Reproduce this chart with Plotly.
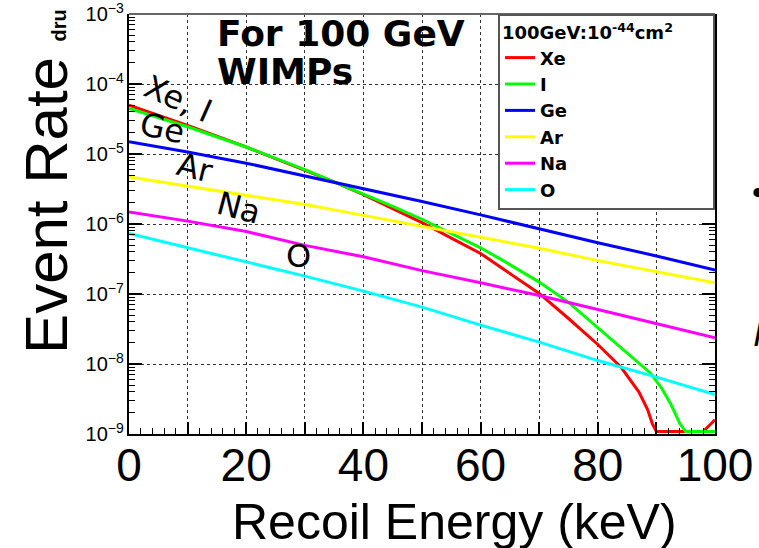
import numpy as np
import plotly.graph_objects as go

# Differential event rate (dru) vs recoil energy for a 100 GeV WIMP, sigma = 1e-44 cm^2
# Rates of exactly zero are drawn just above the lower edge of the log axis.
ZERO_LEVEL = 10 ** -8.965

xe_energy = [0, 10, 20, 30, 35, 40, 45, 50, 55, 60, 64, 70, 75, 80, 84, 87, 88.5, 89.3, 90, 98, 100]
xe_rate = [5.0e-5, 2.57e-5, 1.26e-5, 5.9e-6, 4.0e-6, 2.63e-6, 1.66e-6, 1.05e-6, 6.3e-7, 3.8e-7,
           2.24e-7, 1.02e-7, 4.47e-8, 1.9e-8, 8.9e-9, 4.0e-9, 2.24e-9, 1.41e-9, 0.0, 0.0, 1.6e-9]

i_energy = [0, 10, 20, 30, 35, 40, 45, 50, 55, 60, 64, 70, 75, 80, 84.5, 89, 91, 92.5, 94, 95, 100]
i_rate = [4.47e-5, 2.45e-5, 1.26e-5, 6.0e-6, 4.0e-6, 2.7e-6, 1.78e-6, 1.17e-6, 7.4e-7, 4.57e-7,
          2.95e-7, 1.48e-7, 7.6e-8, 3.3e-8, 1.55e-8, 7.4e-9, 4.37e-9, 2.63e-9, 1.41e-9, 0.0, 0.0]

grid_energy = [0, 10, 20, 30, 40, 50, 60, 70, 80, 90, 100]
ge_rate = [1.5e-5, 1.07e-5, 7.4e-6, 4.9e-6, 3.2e-6, 2.1e-6, 1.35e-6, 8.5e-7, 5.4e-7, 3.5e-7, 2.2e-7]
ar_rate = [4.7e-6, 3.5e-6, 2.6e-6, 1.9e-6, 1.33e-6, 9.3e-7, 6.5e-7, 4.5e-7, 3.0e-7, 2.1e-7, 1.45e-7]
na_rate = [1.48e-6, 1.1e-6, 7.8e-7, 4.95e-7, 3.4e-7, 2.16e-7, 1.45e-7, 9.5e-8, 6.0e-8, 3.8e-8, 2.37e-8]
o_rate = [7.3e-7, 4.6e-7, 2.9e-7, 1.8e-7, 1.1e-7, 6.5e-8, 3.6e-8, 2.05e-8, 1.12e-8, 6.5e-9, 3.66e-9]

series = [
    ("Xe", xe_energy, xe_rate, "#ff0000"),
    ("I", i_energy, i_rate, "#00ff00"),
    ("Ge", grid_energy, ge_rate, "#0000ff"),
    ("Ar", grid_energy, ar_rate, "#ffff00"),
    ("Na", grid_energy, na_rate, "#ff00ff"),
    ("O", grid_energy, o_rate, "#00ffff"),
]

x_tick_values = [0, 10, 20, 30, 40, 50, 60, 70, 80, 90, 100]
x_tick_text = ["0", "", "20", "", "40", "", "60", "", "80", "", "100"]

# Curve labels: (text, energy, log10 rate, rotation)
curve_labels = [
    ("Xe, I", 8.4, -4.22, 24),
    ("Ge", 5.6, -4.63, 12),
    ("Ar", 11.3, -5.20, 14),
    ("Na", 18.8, -5.775, 15),
    ("O", 28.9, -6.46, 0),
]

ROOT_FONT = "DejaVu Sans"
SLIDE_FONT = "Liberation Sans, Arial, sans-serif"

fig = go.Figure()
for name, energy, rate, color in series:
    rate = np.asarray(rate, dtype=float)
    fig.add_trace(go.Scatter(
        x=energy,
        y=np.where(rate > 0, rate, ZERO_LEVEL),
        mode="lines",
        name=name,
        line=dict(color=color, width=3),
    ))

fig.update_xaxes(
    range=[0, 100],
    tickmode="array", tickvals=x_tick_values, ticktext=x_tick_text,
    ticks="inside", ticklen=12, tickwidth=1.5, tickcolor="black",
    minor=dict(dtick=2, ticks="inside", ticklen=6, tickwidth=1.2, tickcolor="black", showgrid=False),
    showline=True, linecolor="black", linewidth=2, mirror=False,
    showgrid=True, gridcolor="#333333", griddash="dot", gridwidth=1,
    tickfont=dict(family=SLIDE_FONT, size=46, color="black"),
    ticklabelstandoff=-10,
    automargin=False,
    zeroline=False,
)
fig.update_yaxes(
    type="log", range=[-9, -2.9995], dtick=1,
    exponentformat="power", showexponent="all",
    ticks="inside", ticklen=13, tickwidth=1.5, tickcolor="black",
    minor=dict(dtick="D1", ticks="inside", ticklen=6, tickwidth=1.2, tickcolor="black", showgrid=False),
    showline=True, linecolor="black", linewidth=2, mirror="ticks",
    showgrid=True, gridcolor="#333333", griddash="dot", gridwidth=1,
    tickfont=dict(family=SLIDE_FONT, size=16, color="black"),
    ticklabeloverflow="allow",
    automargin=False,
    zeroline=False,
)

annotations = []
for text, ex, ly, ang in curve_labels:
    annotations.append(dict(x=ex, y=ly, xref="x", yref="y", text=text, showarrow=False,
                            textangle=ang, font=dict(family=ROOT_FONT, size=32, color="black")))

annotations += [
    dict(x=0.147, y=1.0, xref="paper", yref="paper", xanchor="left", yanchor="middle",
         yshift=-19, text="<b>For 100 GeV</b>", showarrow=False,
         font=dict(family=ROOT_FONT, size=36, color="black")),
    dict(x=0.147, y=1.0, xref="paper", yref="paper", xanchor="left", yanchor="middle",
         yshift=-57, text="<b>WIMPs</b>", showarrow=False,
         font=dict(family=ROOT_FONT, size=36, color="black")),
    dict(x=0.938, y=-0.21, xref="paper", yref="paper", xanchor="right", yanchor="middle",
         text="Recoil Energy (keV)", showarrow=False,
         font=dict(family=SLIDE_FONT, size=50, color="black")),
    dict(x=-0.142, y=0.545, xref="paper", yref="paper", xanchor="center", yanchor="middle",
         text="Event Rate", textangle=-90, showarrow=False,
         font=dict(family=SLIDE_FONT, size=60, color="black")),
    dict(x=-0.12, y=0.972, xref="paper", yref="paper", xanchor="center", yanchor="middle",
         text="<b>dru</b>", textangle=-90, showarrow=False,
         font=dict(family=SLIDE_FONT, size=20, color="black")),
    # fragments of neighbouring slide text at the right edge
    dict(x=1.0, y=(434 - 192) / 420, xref="paper", yref="paper", xanchor="left", yanchor="middle",
         xshift=35, text="•", showarrow=False,
         font=dict(family=SLIDE_FONT, size=34, color="black")),
    dict(x=1.0, y=(434 - 334) / 420, xref="paper", yref="paper", xanchor="left", yanchor="middle",
         xshift=36, text="<i>I</i>", showarrow=False,
         font=dict(family=SLIDE_FONT, size=34, color="black")),
]

fig.update_layout(
    width=759, height=548,
    margin=dict(l=129, r=44, t=14, b=114, autoexpand=False),
    paper_bgcolor="white", plot_bgcolor="white",
    showlegend=True,
    legend=dict(
        x=1, xanchor="right", y=1, yanchor="top",
        bgcolor="white", bordercolor="#555555", borderwidth=2,
        font=dict(family=ROOT_FONT, size=18, color="black", weight="bold"),
        title=dict(text="100GeV:10<sup>-44</sup>cm<sup>2</sup>&nbsp;&nbsp;&nbsp;&nbsp;&nbsp;&nbsp;",
                   font=dict(family=ROOT_FONT, size=18, color="black", weight="bold")),
        tracegroupgap=0,
    ),
    annotations=annotations,
    shapes=[dict(type="line", xref="paper", yref="paper", x0=0, x1=1, y0=1, y1=1,
                 line=dict(color="#666666", width=2))],
)

fig.write_html("out.html")
